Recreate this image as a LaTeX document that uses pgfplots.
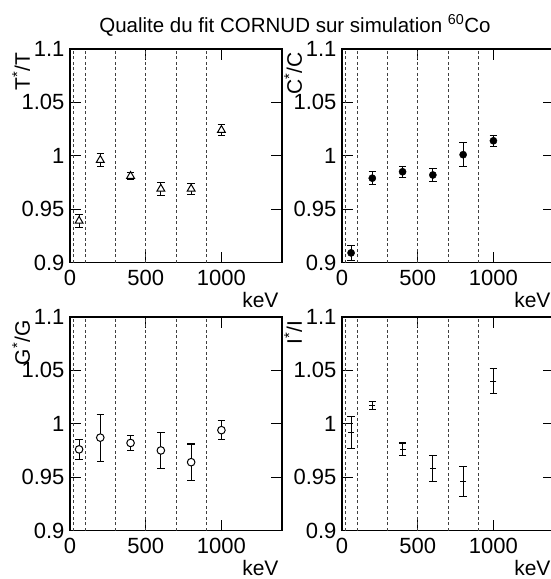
\documentclass[border=0pt]{standalone}
\usepackage{fontspec}
\setmainfont{Liberation Sans}
\usepackage{pgfplots}
\usepackage{pgfplotstable}
\pgfplotsset{compat=1.18}

\pgfplotstableread{
x    y     e
60   0.939 0.006
200  0.996 0.006
400  0.981 0.003
600  0.969 0.006
800  0.969 0.005
1000 1.024 0.005
}\Ttab
\pgfplotstableread{
x    y     e
60   0.909 0.007
200  0.979 0.006
400  0.985 0.005
600  0.982 0.006
800  1.001 0.011
1000 1.014 0.005
}\Ctab
\pgfplotstableread{
x    y     e
60   0.976 0.0095
200  0.987 0.022
400  0.982 0.007
600  0.975 0.017
800  0.964 0.017
1000 0.994 0.009
}\Gtab
\pgfplotstableread{
x    y     e
60   0.992 0.015
200  1.017 0.0035
400  0.976 0.006
600  0.958 0.012
800  0.946 0.014
1000 1.040 0.012
}\Itab

\pgfplotsset{
  cornud/.style={
    scale only axis, width=212pt, height=213.5pt,
    xmin=0, xmax=1400, ymin=0.9, ymax=1.1,
    xtick={0,500,1000}, xticklabels={0,500,1000},
    ytick={0.9,0.95,1,1.05,1.1}, yticklabels={0.9,0.95,1,1.05,1.1},
    tick align=inside, tick pos=both, major tick length=11pt,
    tick style={line width=1pt, black},
    axis line style={line width=1.3pt},
    /pgf/number format/assume math mode=true,
    tick label style={font=\fontsize{22}{24}\selectfont},
    xticklabel style={yshift=-4pt},
    yticklabel style={xshift=-2pt},
    label style={font=\fontsize{21}{24}\selectfont},
    extra x ticks={25,100,300,500,700,900},
    extra x tick labels={},
    extra x tick style={grid=major, major tick length=0pt,
      major grid style={dash pattern=on 3pt off 2.5pt, black!75, line width=0.7pt}},
    xlabel={keV},
    xlabel style={at={(rel axis cs:1,-0.21)}, anchor=base east},
    ylabel style={at={(rel axis cs:-0.1887,1)}, anchor=base east},
    error bars/y dir=both, error bars/y explicit,
    error bars/error bar style={line width=1.1pt, black},
    error bars/error mark options={rotate=90, mark size=3.7pt, line width=1.1pt, black},
  }
}

\begin{document}
\begin{tikzpicture}[font=\fontsize{21}{24}\selectfont]
\path[use as bounding box] (0,0) rectangle (551pt,-579pt);
\node[font=\fontsize{20.5}{23}\selectfont, anchor=base] at (295pt,-32pt)
  {Qualite du fit CORNUD sur simulation \textsuperscript{60}Co};

\begin{axis}[cornud, at={(70pt,-49pt)}, anchor=north west,
  ylabel={T\textsuperscript{*}/T}]
\addplot[black, only marks, mark=triangle*, mark size=4.5pt,
  mark options={fill=white, line width=1pt}]
  table[x=x, y=y, y error=e] {\Ttab};
\end{axis}

\begin{axis}[cornud, at={(342pt,-49pt)}, anchor=north west,
  ylabel={C\textsuperscript{*}/C}]
\addplot[black, only marks, mark=*, mark size=3.6pt]
  table[x=x, y=y, y error=e] {\Ctab};
\end{axis}

\begin{axis}[cornud, at={(70pt,-317pt)}, anchor=north west,
  ylabel={G\textsuperscript{*}/G}]
\addplot[black, only marks, mark=*, mark size=3.8pt,
  mark options={fill=white, line width=1pt}]
  table[x=x, y=y, y error=e] {\Gtab};
\end{axis}

\begin{axis}[cornud, at={(342pt,-317pt)}, anchor=north west,
  ylabel={I\textsuperscript{*}/I}]
\addplot[black, only marks, mark=-, mark size=3pt,
  mark options={line width=1pt}]
  table[x=x, y=y, y error=e] {\Itab};
\end{axis}
\end{tikzpicture}
\end{document}
